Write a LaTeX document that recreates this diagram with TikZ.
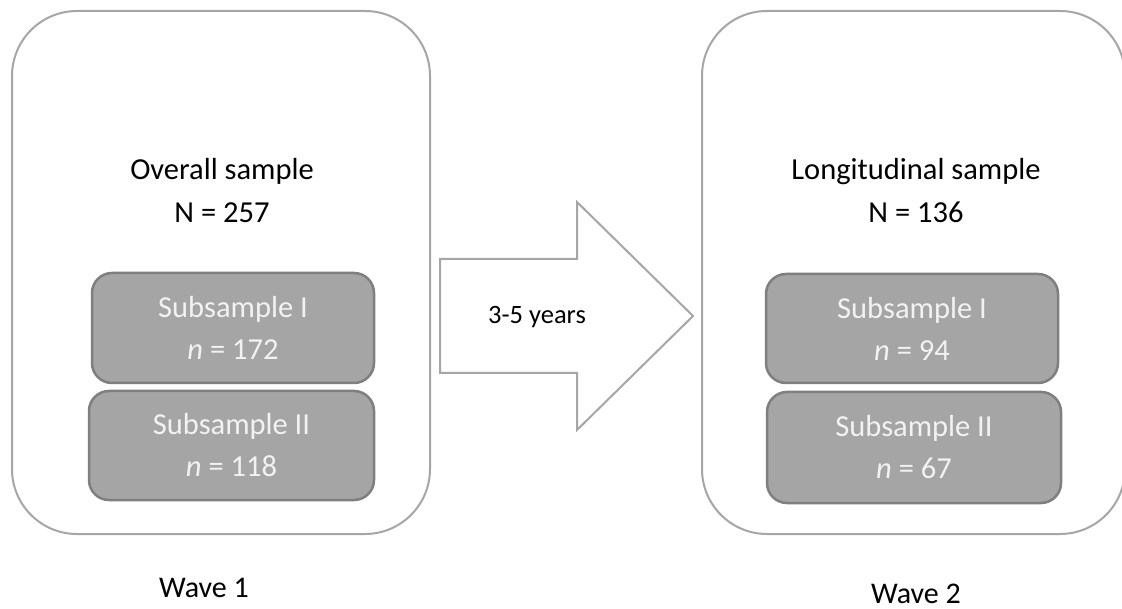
\documentclass[tikz,border=0pt]{standalone}
\usepackage{fontspec}
\setmainfont{Carlito}
\definecolor{outergray}{HTML}{A6A6A6}
\definecolor{subfill}{HTML}{A5A5A5}
\definecolor{subline}{HTML}{7F7F7F}
\definecolor{subtextcol}{HTML}{F2F2F2}
\tikzset{
  bigbox/.style={draw=outergray, line width=2pt, rounded corners=65pt, fill=white, inner sep=0pt},
  subbox/.style={draw=subline, line width=2.5pt, rounded corners=20pt, fill=subfill, inner sep=0pt,
    text=subtextcol, align=center, font=\fontsize{30.5pt}{42pt}\selectfont},
  headtext/.style={align=center, font=\fontsize{30.5pt}{43pt}\selectfont, inner sep=0pt},
  wavetext/.style={font=\fontsize{30pt}{36pt}\selectfont, inner sep=0pt, anchor=base},
  arrowshape/.style={draw=outergray, line width=2pt, fill=white, line join=miter},
}
\begin{document}
\begin{tikzpicture}[x=1pt, y=-1pt]
\useasboundingbox (0,0) rectangle (1122,609);
\clip (0,0) rectangle (1122,609);
\fill[white] (0,0) rectangle (1122,609);

% Wave 1 container
\node[bigbox, minimum width=418pt, minimum height=523pt] (w1) at (221,272.5) {};
% Wave 2 container (runs off the right edge)
\node[bigbox, minimum width=423pt, minimum height=523pt] (w2) at (913.5,272.5) {};

% headings
\node[headtext] (overall) at (222,191) {Overall sample\\N = 257};
\node[headtext] (longi) at (916,191) {Longitudinal sample\\N = 136};

% subsamples wave 1
\node[subbox, minimum width=282pt, minimum height=110pt] (s1a) at (233,328) {Subsample I\\\textit{n} = 172};
\node[subbox, minimum width=285pt, minimum height=109pt] (s1b) at (231.5,445.5) {Subsample II\\\textit{n} = 118};

% subsamples wave 2
\node[subbox, minimum width=292pt, minimum height=109pt] (s2a) at (912,328.5) {Subsample I\\\textit{n} = 94};
\node[subbox, minimum width=294pt, minimum height=111pt] (s2b) at (914,447.5) {Subsample II\\\textit{n} = 67};

% big arrow
\coordinate (a1) at (440,259);
\coordinate (a2) at (577,259);
\coordinate (a3) at (577,202);
\coordinate (tip) at (693,316);
\coordinate (a5) at (577,430);
\coordinate (a6) at (577,373);
\coordinate (a7) at (440,373);
\draw[arrowshape] (a1) -- (a2) -- (a3) -- (tip) -- (a5) -- (a6) -- (a7) -- cycle;
\node[font=\fontsize{26.5pt}{30pt}\selectfont, inner sep=0pt] (years) at (537,317) {3-5 years};

% wave labels
\node[wavetext] (wave1) at (204,597) {Wave 1};
\node[wavetext] (wave2) at (916,603) {Wave 2};
\end{tikzpicture}
\end{document}
